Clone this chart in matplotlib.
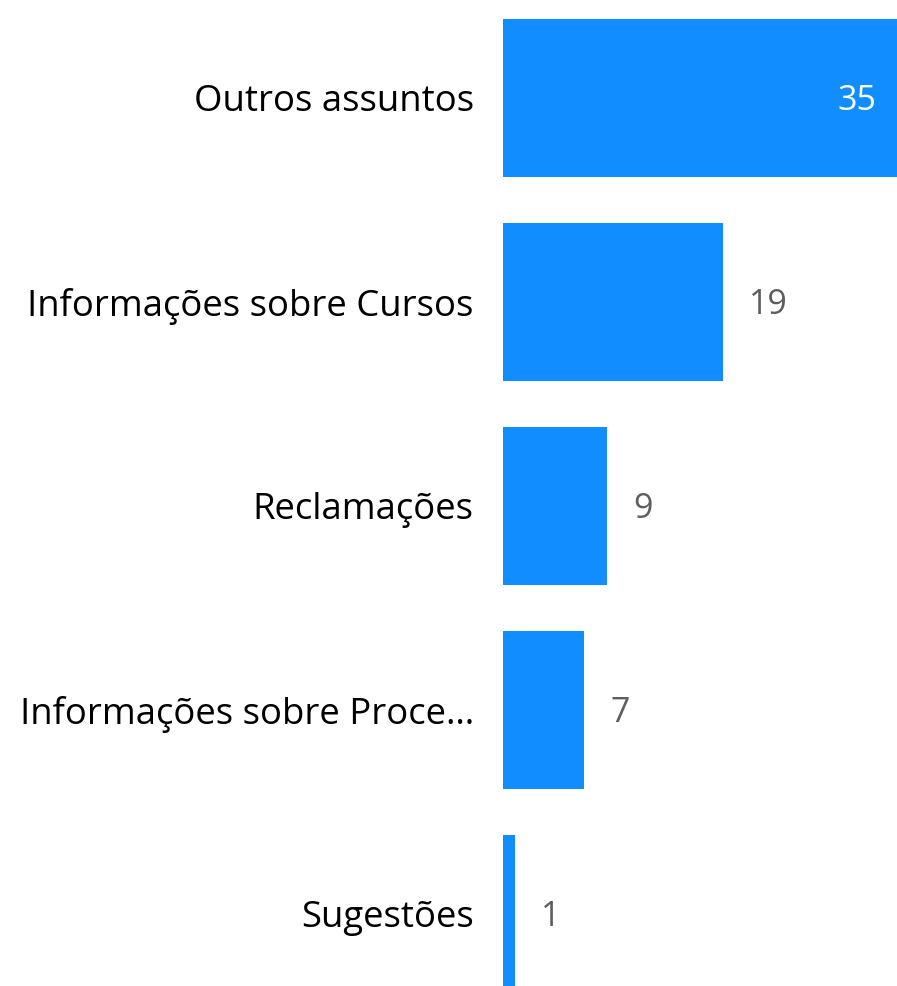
import matplotlib
matplotlib.use('Agg')
import matplotlib.pyplot as plt

categories = ['Outros assuntos', 'Informações sobre Cursos', 'Reclamações',
              'Informações sobre Proce…', 'Sugestões']
values = [35, 19, 9, 7, 1]

bar_color = '#118DFF'
label_color = '#605E5C'
plt.rcParams['font.family'] = ['Open Sans', 'DejaVu Sans']

fig = plt.figure(figsize=(8.97, 9.86), dpi=100)
ax = fig.add_axes([503 / 897, 0, 1 - 503 / 897, 1])

pos = list(range(len(categories)))
ax.barh(pos, values, height=0.775, color=bar_color)
ax.set_xlim(0, 34.1)
ax.set_ylim(4.353, -0.48)

for spine in ax.spines.values():
    spine.set_visible(False)
ax.set_xticks([])
ax.set_yticks(pos)
ax.set_yticklabels(categories, fontsize=26.3, color='#000000')
ax.tick_params(axis='y', length=0, pad=21)

xmax = ax.get_xlim()[1]
for p, v in zip(pos, values):
    if v > xmax * 0.8:
        ax.annotate(str(v), (xmax, p), xytext=(-15, -2), textcoords='offset points',
                    ha='right', va='center', fontsize=24.5, color='white')
    else:
        ax.annotate(str(v), (v, p), xytext=(19, -2), textcoords='offset points',
                    ha='left', va='center', fontsize=24.5, color=label_color)

fig.savefig('out.png', dpi=100)
